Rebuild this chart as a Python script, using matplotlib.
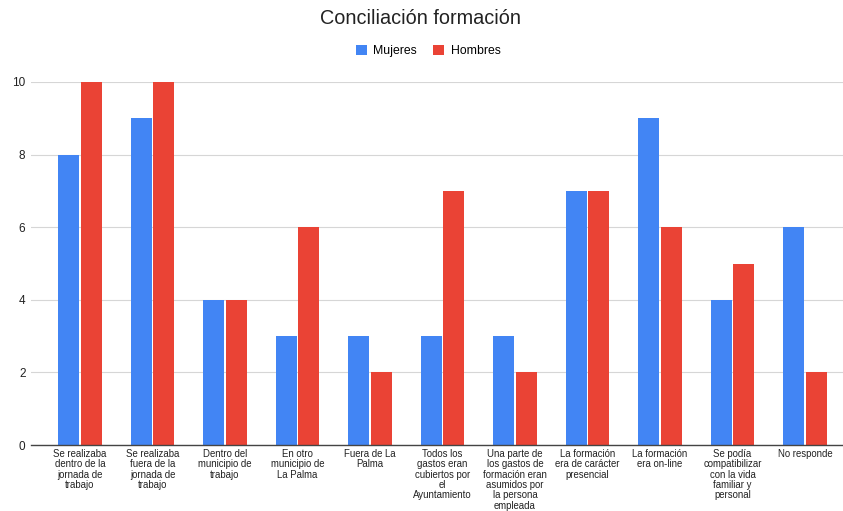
import matplotlib
matplotlib.use("Agg")
import matplotlib.pyplot as plt
import numpy as np

plt.rcParams['font.family'] = ['Liberation Sans', 'DejaVu Sans']

categories = [
    "Se realizaba\ndentro de la\njornada de\ntrabajo",
    "Se realizaba\nfuera de la\njornada de\ntrabajo",
    "Dentro del\nmunicipio de\ntrabajo",
    "En otro\nmunicipio de\nLa Palma",
    "Fuera de La\nPalma",
    "Todos los\ngastos eran\ncubiertos por\nel\nAyuntamiento",
    "Una parte de\nlos gastos de\nformación eran\nasumidos por\nla persona\nempleada",
    "La formación\nera de carácter\npresencial",
    "La formación\nera on-line",
    "Se podía\ncompatibilizar\ncon la vida\nfamiliar y\npersonal",
    "No responde",
]
mujeres = [8, 9, 4, 3, 3, 3, 3, 7, 9, 4, 6]
hombres = [10, 10, 4, 6, 2, 7, 2, 7, 6, 5, 2]
yticks = [0, 2, 4, 6, 8, 10]

W, H = 843, 511
fig = plt.figure(figsize=(W / 100, H / 100), dpi=100)
ax_left, ax_right, ax_top, ax_bottom = 31, 843, 82, 445
ax = fig.add_axes([ax_left / W, 1 - ax_bottom / H, (ax_right - ax_left) / W, (ax_bottom - ax_top) / H])

x = np.arange(len(categories))
w = 0.295
off = 0.155
ax.bar(x - off, mujeres, w, color="#4285F4", label="Mujeres", zorder=3)
ax.bar(x + off, hombres, w, color="#EA4335", label="Hombres", zorder=3)

ax.set_xlim(-0.676, 10.524)
ax.set_ylim(0, 10)
ax.set_yticks(yticks)
ax.set_yticklabels([str(t) for t in yticks], fontsize=8.5, color="#222222")
ax.set_xticks(x)
ax.set_xticklabels(categories, fontsize=6.9, color="#222222", linespacing=1.04, va="top")
ax.tick_params(axis="both", length=0)
ax.tick_params(axis="x", pad=3)
ax.tick_params(axis="y", pad=4)
ax.grid(axis="y", color="#d6d6d6", linewidth=0.8, zorder=0)
for s in ["top", "right", "left"]:
    ax.spines[s].set_visible(False)
ax.spines["bottom"].set_color("#444444")
ax.spines["bottom"].set_linewidth(1.0)
ax.spines["bottom"].set_zorder(4)

fig.text(0.5 - 1 / W, 1 - 18 / H, "Conciliación formación", ha="center", va="center",
         fontsize=14.3, color="#222222")
fig.legend(loc="center", bbox_to_anchor=(428 / W, 1 - 51 / H), ncol=2, frameon=False, fontsize=8.8,
           handlelength=0.9, handleheight=0.9, columnspacing=1.4, handletextpad=0.5)

fig.savefig("out.png", dpi=100)
